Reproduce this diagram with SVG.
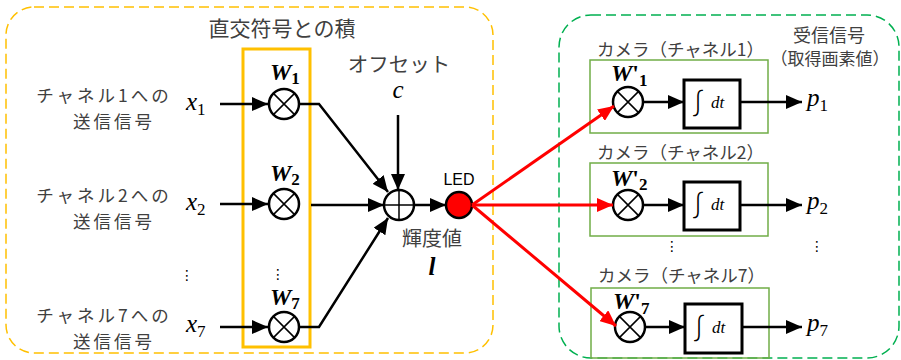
<svg xmlns="http://www.w3.org/2000/svg" width="901" height="360" viewBox="0 0 901 360">
<style>
.jp{font-family:"Noto Sans CJK JP","Noto Sans",sans-serif;fill:#404040}
.lab{font-size:17.5px;letter-spacing:3px}
.m{font-family:"Liberation Serif","DejaVu Serif",serif;font-style:italic;fill:#000}
.wb{font-family:"Liberation Serif","DejaVu Serif",serif;font-style:italic;font-weight:bold;fill:#000;font-size:24px}
.sb{font-style:normal;font-weight:bold;font-size:17px}
.pr{font-style:normal;font-weight:bold;font-size:24px}
.sub{font-style:normal;font-size:17px}
.ln{stroke:#000;stroke-width:2.5;fill:none}
.red{stroke:#FF0000;stroke-width:3;fill:none}
.mul{fill:#fff;stroke:#000;stroke-width:2.5}
.x{stroke:#000;stroke-width:1.5}
.cam{fill:none;stroke:#70AD47;stroke-width:1.5}
.int{fill:#fff;stroke:#000;stroke-width:3}
.ig{font-family:"Noto Sans CJK JP",sans-serif;font-weight:300;font-size:28px;fill:#000}
.dots{font-family:"DejaVu Sans",sans-serif;font-size:14px;fill:#000}
</style>
<defs>
<marker id="ab" markerUnits="userSpaceOnUse" markerWidth="16" markerHeight="14" refX="16" refY="7" orient="auto"><path d="M0,0 L16,7 L0,14 z" fill="#000"/></marker>
<marker id="ar" markerUnits="userSpaceOnUse" markerWidth="16" markerHeight="14" refX="16" refY="7" orient="auto"><path d="M0,0 L16,7 L0,14 z" fill="#FF0000"/></marker>
</defs>

<g id="transmitter-group">
<rect x="6" y="7" width="487" height="346" rx="28" fill="none" stroke="#FFC000" stroke-width="1.5" stroke-dasharray="10,5"/>
<text class="jp" x="282" y="36" font-size="21" text-anchor="middle">直交符号との積</text>
</g>
<g id="receiver-group">
<rect x="559" y="15" width="340" height="343" rx="32" fill="none" stroke="#00B050" stroke-width="1.5" stroke-dasharray="10,5"/>
<text class="jp" x="829" y="42" font-size="18" text-anchor="middle">受信信号</text>
<text class="jp" x="830" y="65" font-size="17" text-anchor="middle">（取得画素値）</text>
</g>

<g id="inputs">
<text class="jp lab" x="104" y="102" text-anchor="middle">チャネル1への</text>
<text class="jp lab" x="114" y="128" text-anchor="middle">送信信号</text>
<text class="jp lab" x="104" y="202" text-anchor="middle">チャネル2への</text>
<text class="jp lab" x="114" y="228" text-anchor="middle">送信信号</text>
<text class="jp lab" x="104" y="322" text-anchor="middle">チャネル7への</text>
<text class="jp lab" x="114" y="348" text-anchor="middle">送信信号</text>
<text class="m" x="186" y="110" font-size="25">x<tspan class="sub" dy="5">1</tspan></text>
<text class="m" x="186" y="210" font-size="25">x<tspan class="sub" dy="5">2</tspan></text>
<text class="m" x="186" y="332" font-size="25">x<tspan class="sub" dy="5">7</tspan></text>
<text class="dots" x="187" y="280" text-anchor="middle">⋮</text>
</g>

<g id="weights">
<rect x="243" y="49" width="67" height="298" fill="none" stroke="#FFC000" stroke-width="3"/>
<text class="wb" x="270" y="80">W<tspan class="sb" dy="4">1</tspan></text>
<text class="wb" x="270" y="181">W<tspan class="sb" dy="4">2</tspan></text>
<text class="wb" x="270" y="305">W<tspan class="sb" dy="4">7</tspan></text>
<text class="dots" x="278" y="279" text-anchor="middle">⋮</text>
<g id="mul1"><circle class="mul" cx="284" cy="104" r="15"/><path class="x" d="M273.4,93.4 L294.6,114.6 M294.6,93.4 L273.4,114.6"/></g>
<g id="mul2"><circle class="mul" cx="284" cy="204" r="15"/><path class="x" d="M273.4,193.4 L294.6,214.6 M294.6,193.4 L273.4,214.6"/></g>
<g id="mul7"><circle class="mul" cx="284" cy="327" r="15"/><path class="x" d="M273.4,316.4 L294.6,337.6 M294.6,316.4 L273.4,337.6"/></g>
</g>

<g id="offset">
<text class="jp" x="399" y="72" font-size="20.5" text-anchor="middle">オフセット</text>
<text class="m" x="398" y="98" font-size="25" text-anchor="middle">c</text>
</g>

<g id="sum">
<circle class="mul" cx="399" cy="205" r="15"/>
<path class="x" d="M384,205 H414 M399,190 V220"/>
<text class="jp" x="432" y="246" font-size="20" text-anchor="middle">輝度値</text>
<text class="m" x="432" y="275" font-size="25" font-weight="bold" text-anchor="middle">l</text>
</g>

<g id="led">
<circle cx="459" cy="205" r="13" fill="#FF0000" stroke="#000" stroke-width="2.5"/>
<text x="459" y="185" font-family="Liberation Sans, Arial, sans-serif" font-size="16" text-anchor="middle" fill="#000">LED</text>
</g>

<g id="camera1">
<rect class="cam" x="590" y="60" width="178" height="73"/>
<text class="jp" x="597" y="56" font-size="17.5">カメラ（チャネル1）</text>
<text class="wb" x="611" y="81">W<tspan class="pr">'</tspan><tspan class="sb" dy="5">1</tspan></text>
<circle class="mul" cx="628" cy="102" r="15"/><path class="x" d="M617.4,91.4 L638.6,112.6 M638.6,91.4 L617.4,112.6"/>
<rect class="int" x="684" y="80" width="56" height="48"/>
<text class="ig" x="698" y="114" text-anchor="middle">∫</text>
<text class="m" x="711" y="108" font-size="17">dt</text>
<text class="m" x="807" y="106" font-size="25">p<tspan class="sub" dy="5">1</tspan></text>
</g>
<g id="camera2">
<rect class="cam" x="590" y="163" width="178" height="73"/>
<text class="jp" x="597" y="159" font-size="17.5">カメラ（チャネル2）</text>
<text class="wb" x="611" y="186">W<tspan class="pr">'</tspan><tspan class="sb" dy="4">2</tspan></text>
<circle class="mul" cx="628" cy="205" r="15"/><path class="x" d="M617.4,194.4 L638.6,215.6 M638.6,194.4 L617.4,215.6"/>
<rect class="int" x="684" y="182" width="56" height="48"/>
<text class="ig" x="698" y="216" text-anchor="middle">∫</text>
<text class="m" x="711" y="210" font-size="17">dt</text>
<text class="m" x="807" y="209" font-size="25">p<tspan class="sub" dy="5">2</tspan></text>
</g>
<g id="camera7">
<rect class="cam" x="591" y="288" width="178" height="70"/>
<text class="jp" x="598" y="282" font-size="17.5">カメラ（チャネル7）</text>
<text class="wb" x="613" y="309">W<tspan class="pr">'</tspan><tspan class="sb" dy="5">7</tspan></text>
<circle class="mul" cx="630" cy="327" r="15"/><path class="x" d="M619.4,316.4 L640.6,337.6 M640.6,316.4 L619.4,337.6"/>
<rect class="int" x="685" y="304" width="57" height="49"/>
<text class="ig" x="699" y="339" text-anchor="middle">∫</text>
<text class="m" x="712" y="333" font-size="17">dt</text>
<text class="m" x="807" y="331" font-size="25">p<tspan class="sub" dy="5">7</tspan></text>
</g>
<text class="dots" x="672" y="251" text-anchor="middle">⋮</text>
<text class="dots" x="817" y="251" text-anchor="middle">⋮</text>

<g id="connectors">
<path class="ln" d="M220,104 H268" marker-end="url(#ab)"/>
<path class="ln" d="M220,204 H268" marker-end="url(#ab)"/>
<path class="ln" d="M220,327 H268" marker-end="url(#ab)"/>
<path class="ln" d="M299,104 H319 L388,192" marker-end="url(#ab)"/>
<path class="ln" d="M311,205 H384" marker-end="url(#ab)"/>
<path class="ln" d="M299,327 H319 L388,218" marker-end="url(#ab)"/>
<path class="ln" d="M398,115 V190" marker-end="url(#ab)"/>
<path class="ln" d="M414,205 H446" marker-end="url(#ab)"/>
<path class="red" d="M472,205 L614,106" marker-end="url(#ar)"/>
<path class="red" d="M472,205 H613" marker-end="url(#ar)"/>
<path class="red" d="M472,205 L616,326" marker-end="url(#ar)"/>
<path class="ln" d="M643,102 H684" marker-end="url(#ab)"/>
<path class="ln" d="M740,102 H802" marker-end="url(#ab)"/>
<path class="ln" d="M643,205 H684" marker-end="url(#ab)"/>
<path class="ln" d="M740,205 H802" marker-end="url(#ab)"/>
<path class="ln" d="M645,327 H685" marker-end="url(#ab)"/>
<path class="ln" d="M742,327 H802" marker-end="url(#ab)"/>
</g>
</svg>
